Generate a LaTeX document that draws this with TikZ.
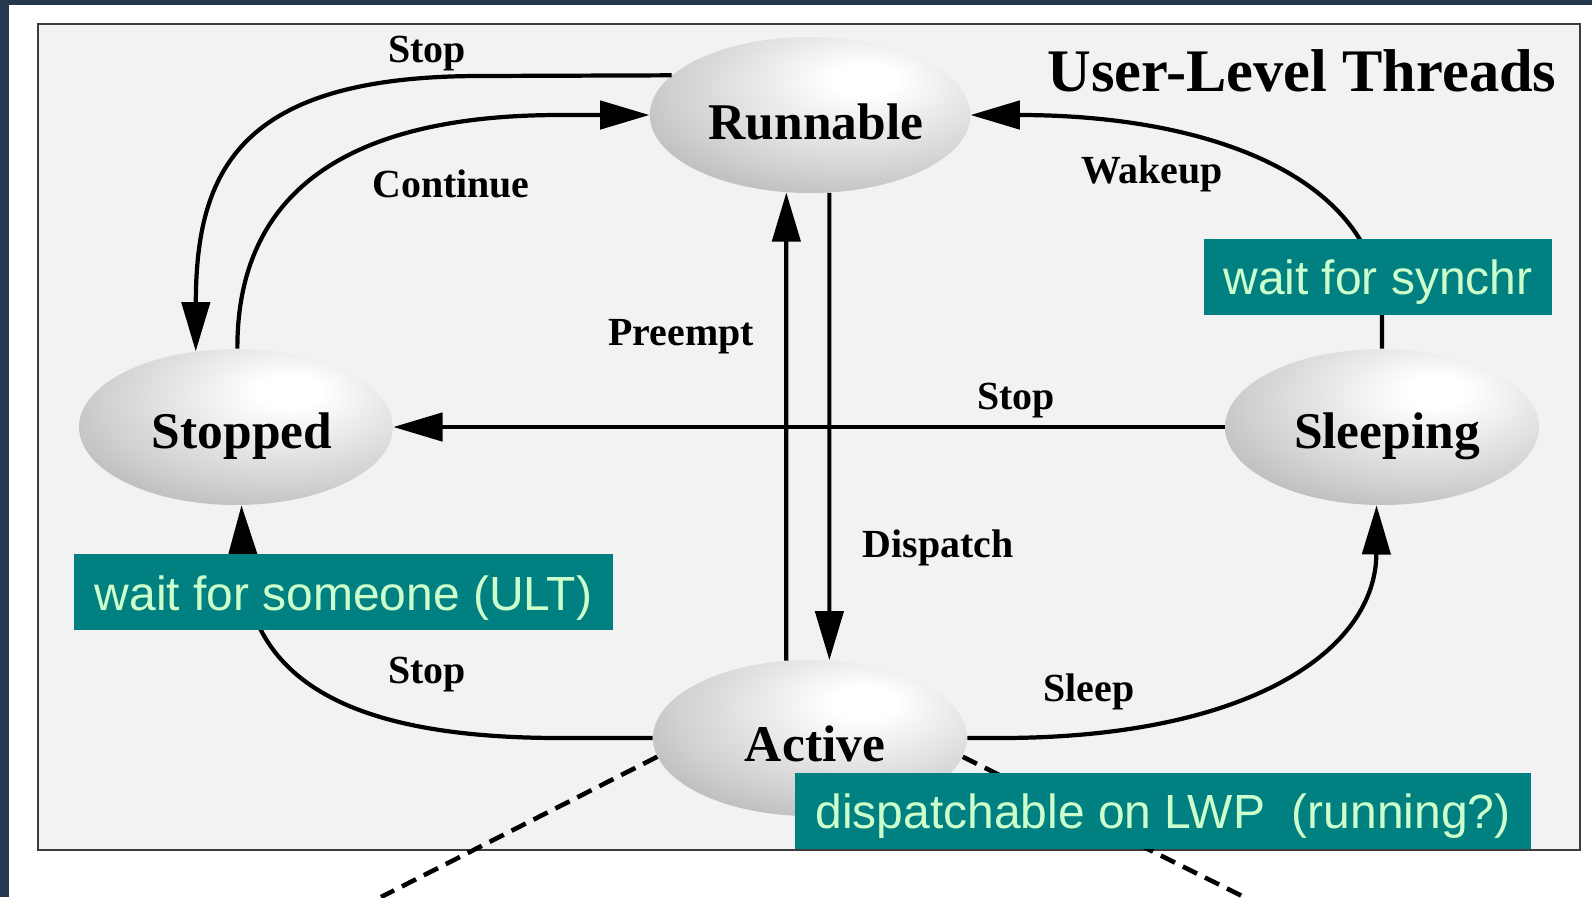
\documentclass[tikz,border=0pt]{standalone}
\usepackage{fontspec}
\setmainfont{Liberation Serif}
\setsansfont{Liberation Sans}
\usetikzlibrary{shapes.geometric,arrows.meta}
\definecolor{navy}{RGB}{37,56,77}
\definecolor{boxgray}{RGB}{242,242,242}
\definecolor{boxedge}{RGB}{60,60,60}
\definecolor{tealbox}{RGB}{0,128,128}
\definecolor{tealtext}{RGB}{204,255,204}
\definecolor{ellgray}{RGB}{150,150,150}
\definecolor{ellmid}{RGB}{208,208,208}
\pgfdeclareradialshading{ellshade}{\pgfpoint{9bp}{12bp}}{color(0bp)=(white);color(5bp)=(white);color(28bp)=(ellmid);color(52bp)=(ellgray);color(100bp)=(ellgray)}
\newcommand\shiftedtext[3]{\kern#1\raisebox{-#2}[\height][\depth]{#3}}
\begin{document}
\begin{tikzpicture}[x=0.02cm,y=-0.02cm,
  state/.style={ellipse, shade, shading=ellshade, minimum width=6.28cm, minimum height=3.12cm, inner sep=0pt, font=\fontsize{29.3}{34}\selectfont\bfseries},
  elabel/.style={font=\fontsize{22.7}{27}\selectfont\bfseries, inner sep=0pt},
  note/.style={fill=tealbox, text=tealtext, font=\sffamily\fontsize{27.3}{32}\selectfont, inner sep=0pt, minimum height=1.52cm},
  arr/.style={line width=2.4pt, -{Triangle[length=28pt,width=16pt]}},
  dashline/.style={line width=2.6pt, dash pattern=on 9pt off 5pt}
]
\useasboundingbox (0,0) rectangle (1592,897);
\fill[navy] (0,0) rectangle (1592,897);
\fill[white] (9,5) rectangle (1592,897);
\draw[fill=boxgray, draw=boxedge, line width=1.1pt] (38,24) rectangle (1580,850);

% states
\node[state] (run) at (810,115) {\shiftedtext{0.24cm}{0.14cm}{Runnable}};
\node[state] (stop) at (236,427) {\shiftedtext{0.24cm}{0.18cm}{Stopped}};
\node[state] (sleep) at (1382,427) {\shiftedtext{0.2cm}{0.18cm}{Sleeping}};
\node[state] (act) at (810,738) {\shiftedtext{0.2cm}{0.12cm}{Active}};

% title
\node[font=\fontsize{34.4}{40}\selectfont\bfseries, inner sep=0pt] (title) at (1302,71) {User-Level Threads};

% edges
\draw[arr] (run.164) -- (480,76) .. controls (240,76) and (196,170) .. (stop.118);
\draw[arr] (stop.89) .. controls (237,170) and (380,115) .. (560,115) -- (run.west);
\draw[arr] (sleep.north) -- (1382,320) .. controls (1382,180) and (1215,115) .. (run.east);
\draw[arr] (act.107) -- (run.253);
\draw[arr] (run.284) -- (act.76);
\draw[arr] (sleep.west) -- (stop.east);
\draw[arr] (act.west) -- (560,738) .. controls (340,738) and (246,675) .. (stop.274);
\draw[arr] (act.east) -- (1000,738) .. controls (1250,738) and (1376,650) .. (sleep.266);

% edge labels
\node[elabel] (lstop1) at (427,54) {Stop};
\node[elabel] (lcont) at (451,184) {Continue};
\node[elabel] (lwake) at (1152,174) {Wakeup};
\node[elabel] (lpre) at (681,337) {Preempt};
\node[elabel] (lstop2) at (1016,401) {Stop};
\node[elabel] (ldisp) at (938,548) {Dispatch};
\node[elabel] (lstop3) at (427,675) {Stop};
\node[elabel] (lsleep) at (1089,692) {Sleep};

% dashed lines
\coordinate (dl) at (381,897);
\coordinate (dr) at (1244,897);
\draw[dashline] (act.187) -- (dl);
\draw[dashline] (act.353) -- (dr);

% notes
\node[note, minimum width=6.96cm] (n1) at (1378,276.5) {\shiftedtext{0pt}{3.4pt}{wait for synchr}};
\node[note, minimum width=10.78cm] (n2) at (343.5,592) {\shiftedtext{0pt}{3.4pt}{wait for someone (ULT)}};
\node[note, minimum width=14.72cm] (n3) at (1163,811) {\shiftedtext{0pt}{3pt}{dispatchable on LWP\ \ (running?)}};
\end{tikzpicture}
\end{document}
